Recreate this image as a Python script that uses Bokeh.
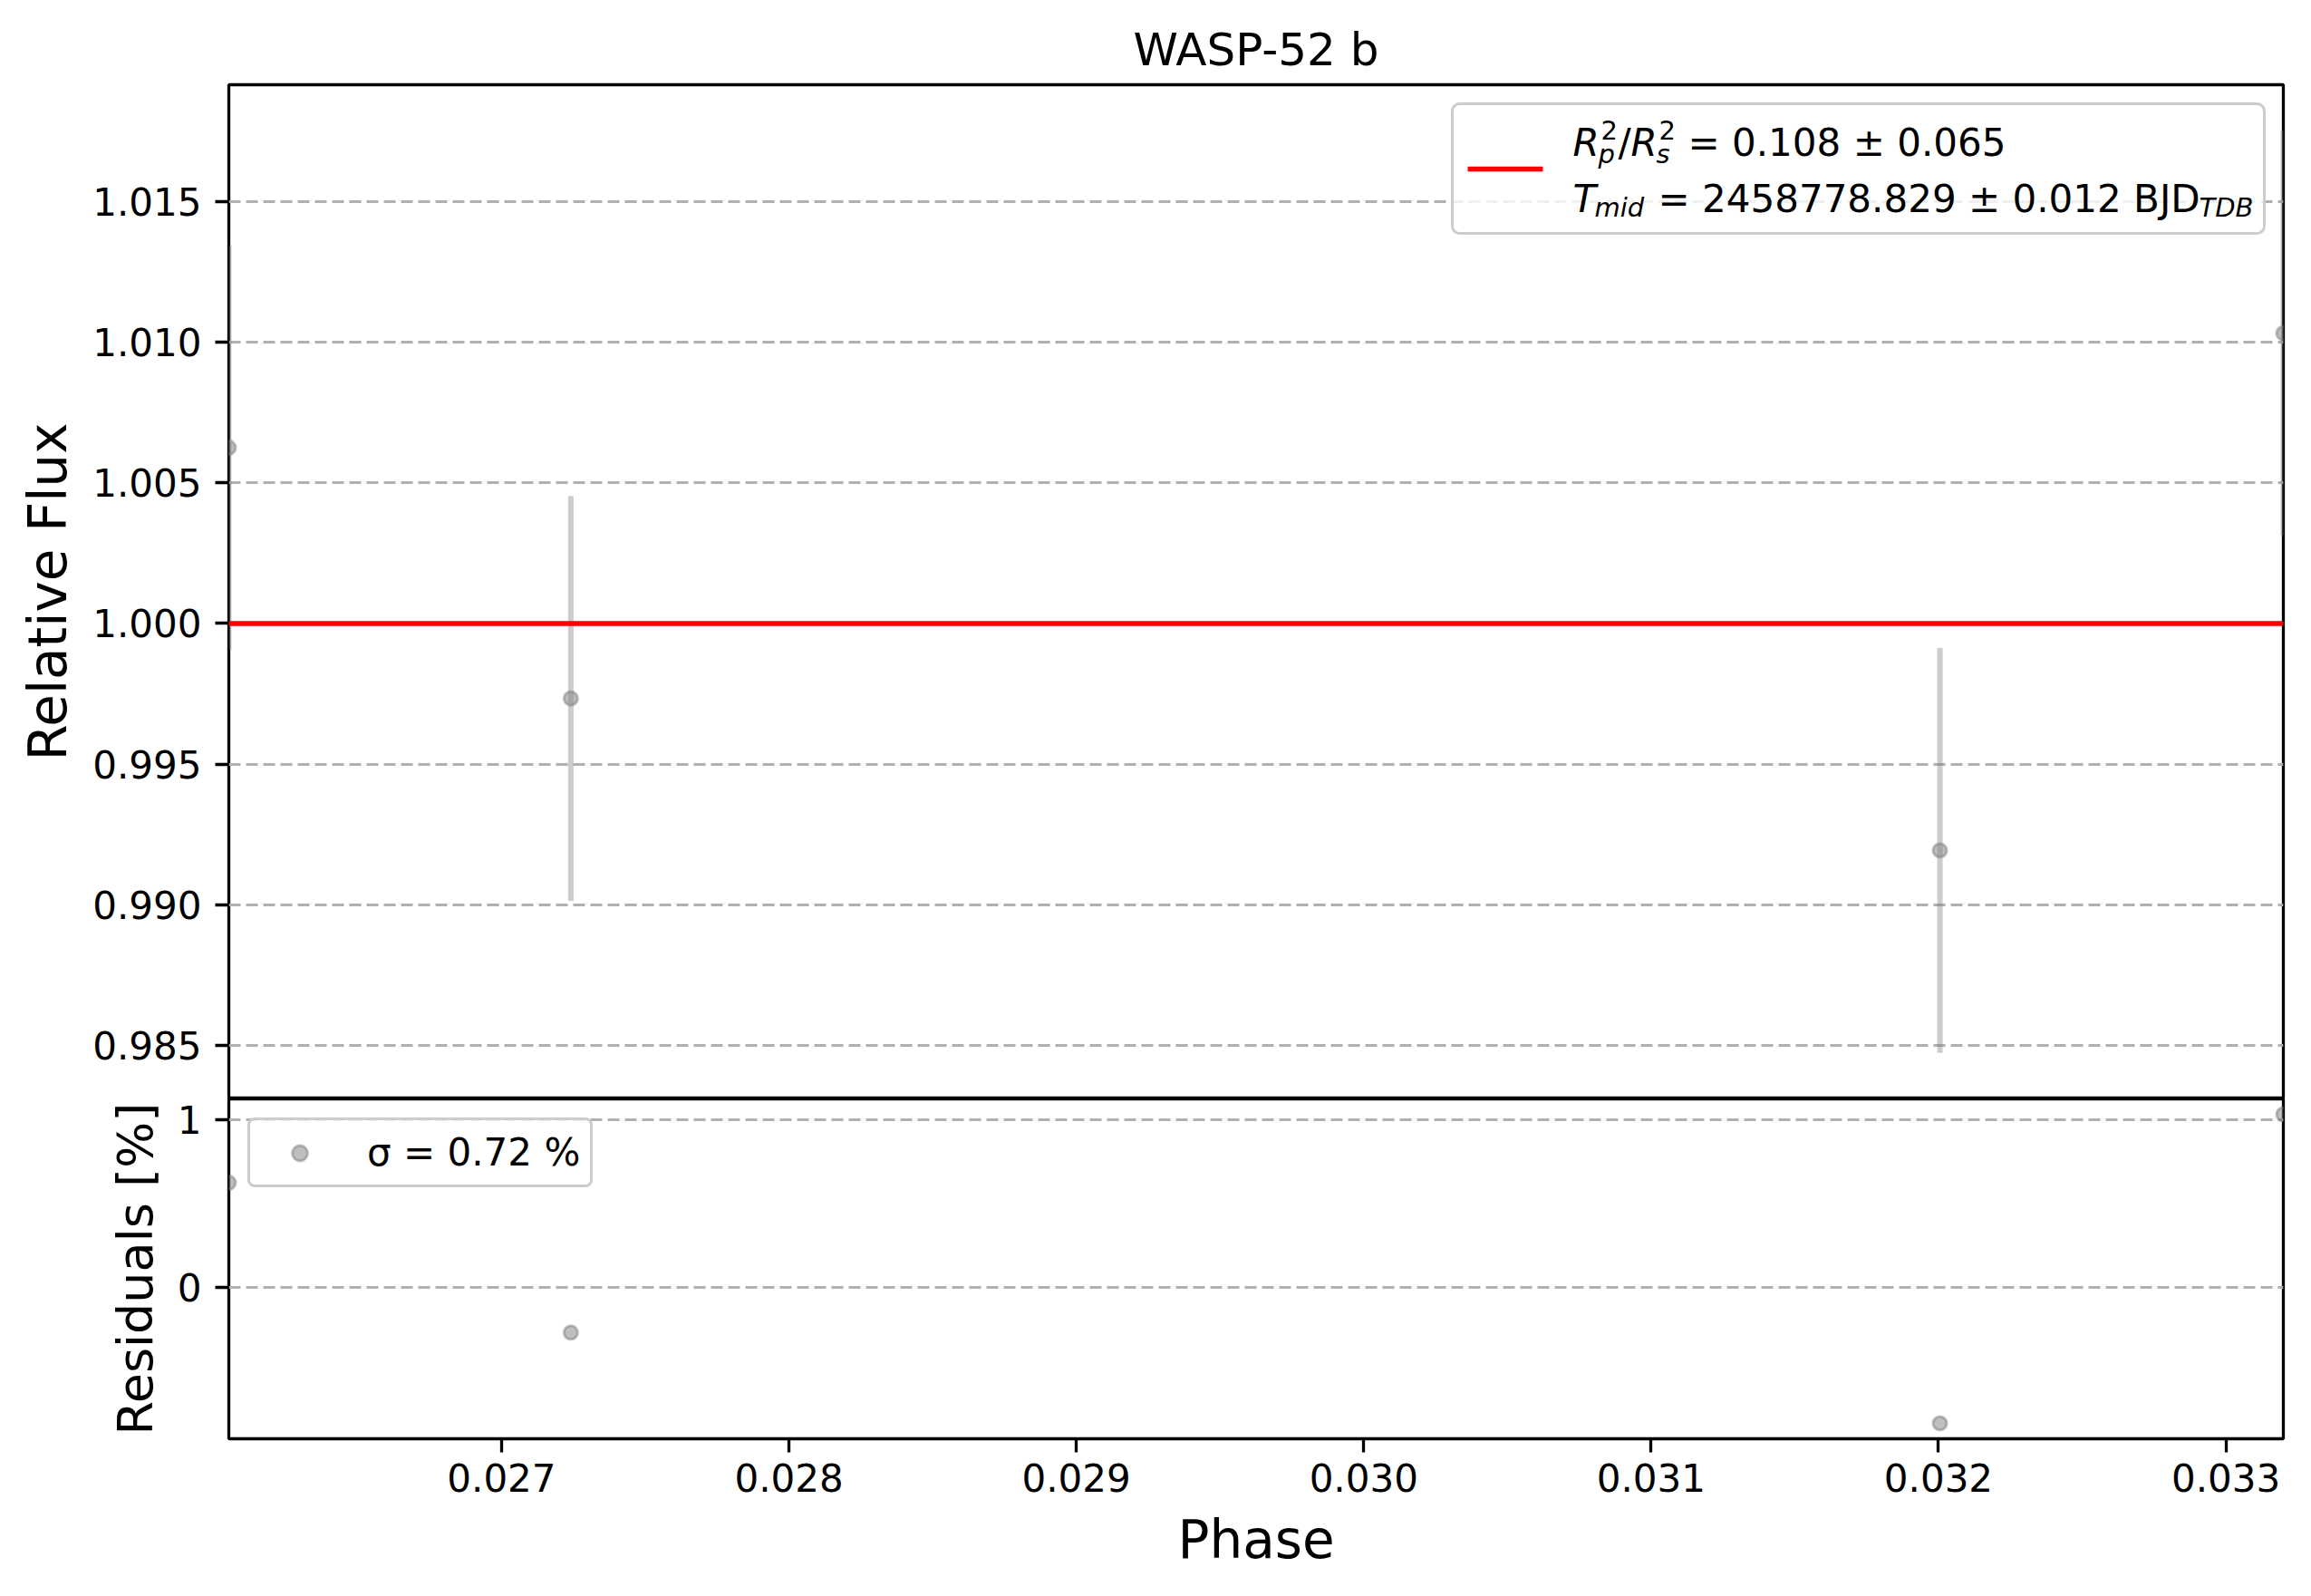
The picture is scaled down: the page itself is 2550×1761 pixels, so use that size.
import numpy as np
from bokeh.plotting import figure
from bokeh.models import (Range1d, FixedTicker, Legend, LegendItem, BoxAnnotation,
                          Label, Arrow, ColumnDataSource)
from bokeh.layouts import column
from bokeh.embed import file_html
from bokeh.resources import INLINE

# ---------------- data ----------------
title_text = "WASP-52 b"
phase = [0.026051, 0.027241, 0.032005, 0.033200]
flux = [1.00625, 0.99733, 0.99193, 1.01032]
flux_err = [0.0072, 0.0072, 0.0072, 0.0072]
model_flux = [1.0, 1.0, 1.0, 1.0]
residual_pct = [0.625, -0.267, -0.807, 1.032]

x_ticks = [0.027, 0.028, 0.029, 0.030, 0.031, 0.032, 0.033]
x_tick_labels = ["0.027", "0.028", "0.029", "0.030", "0.031", "0.032", "0.033"]
flux_ticks = [0.985, 0.990, 0.995, 1.000, 1.005, 1.010, 1.015]
flux_tick_labels = ["0.985", "0.990", "0.995", "1.000", "1.005", "1.010", "1.015"]
res_ticks = [0, 1]
res_tick_labels = ["0", "1"]

x_label = "Phase"
flux_label = "Relative Flux"
res_label = "Residuals [%]"
sigma_label = "σ = 0.72 %"
# legend text pieces (text, dx, dy, size, italic)
legend_line1 = [("R", 0, 0, 42, True), ("2", 31, 14, 29, False), ("p", 28, -12, 29, True),
                ("/", 50, 0, 42, False), ("R", 64, 0, 42, True), ("2", 95, 14, 29, False),
                ("s", 92, -12, 29, True), ("= 0.108 ± 0.065", 127, 0, 42, False)]
legend_line2 = [("T", 0, 0, 42, True), ("mid", 24, -9, 29, True),
                ("= 2458778.829 ± 0.012 BJD", 94, 0, 42, False), ("TDB", 691, -9, 29, True)]

# ---------------- style ----------------
FONT = "DejaVu Sans"
FRAME_W = 2267
LEFT = 252
RIGHT = 20
TOP_BORDER = 93
TOP_FRAME_H = 1119
BOT_FRAME_H = 375
GRID_COLOR = "#b0b0b0"
SPINE_W = 3.3

xr = Range1d(min(phase), max(phase))
lo = min(f - e for f, e in zip(flux, flux_err))
hi = max(f + e for f, e in zip(flux, flux_err))
pad = 0.05 * (hi - lo)
yr1 = Range1d(lo - pad, hi + pad)
rlo, rhi = min(residual_pct), max(residual_pct)
rpad = 0.05 * (rhi - rlo)
yr2 = Range1d(rlo - rpad, rhi + rpad)


def style_axis(ax, ticks, labels, label, label_size="58px"):
    ax.ticker = FixedTicker(ticks=ticks)
    ax.major_label_overrides = {t: s for t, s in zip(ticks, labels)}
    ax.axis_label = label
    ax.axis_label_text_font = FONT
    ax.axis_label_text_font_size = label_size
    ax.axis_label_text_font_style = "normal"
    ax.axis_label_text_color = "black"
    ax.major_label_text_font = FONT
    ax.major_label_text_font_size = "42px"
    ax.major_label_text_color = "black"
    ax.major_tick_out = 15
    ax.major_tick_in = 0
    ax.major_tick_line_width = SPINE_W
    ax.major_tick_line_color = "black"
    ax.minor_tick_line_color = None
    ax.axis_line_color = None


# ---------------- top panel ----------------
p1 = figure(frame_width=FRAME_W, frame_height=TOP_FRAME_H, x_range=xr, y_range=yr1,
            output_backend="svg", toolbar_location=None, x_axis_location=None,
            min_border_left=LEFT, min_border_right=RIGHT, min_border_top=TOP_BORDER,
            min_border_bottom=0, title=title_text)
p1.title.text_font = FONT
p1.title.text_font_size = "50px"
p1.title.text_font_style = "normal"
p1.title.text_color = "black"
p1.title.align = "center"
p1.title.standoff = 20
p1.outline_line_color = "black"
p1.outline_line_width = SPINE_W
p1.outline_line_alpha = 1
style_axis(p1.yaxis[0], flux_ticks, flux_tick_labels, flux_label)
p1.yaxis[0].major_label_standoff = 15
p1.yaxis[0].axis_label_standoff = 12
p1.xgrid.visible = False
p1.ygrid.ticker = FixedTicker(ticks=flux_ticks)
p1.ygrid.grid_line_color = GRID_COLOR
p1.ygrid.grid_line_dash = "13 6"
p1.ygrid.grid_line_width = 3

src = ColumnDataSource(dict(
    x=phase, y=flux,
    ylo=[f - e for f, e in zip(flux, flux_err)],
    yhi=[f + e for f, e in zip(flux, flux_err)],
    model=model_flux))
p1.segment(x0="x", y0="ylo", x1="x", y1="yhi", source=src,
           line_color="gray", line_alpha=0.4, line_width=6)
p1.scatter(x="x", y="y", source=src, marker="circle", size=15,
           fill_color="gray", fill_alpha=0.5, line_color="gray", line_alpha=0.5, line_width=3)
p1.line(x="x", y="model", source=src, line_color="red", line_width=5.5)

# custom legend (mathematical label)
box_kw = dict(left=1350, right=2246, top=1098, bottom=955,
              left_units="screen", right_units="screen", top_units="screen", bottom_units="screen",
              fill_color="white", fill_alpha=0.8, line_color="#cccccc", line_width=3, line_alpha=1)
if "border_radius" in BoxAnnotation.properties():
    box_kw["border_radius"] = 8
p1.add_layout(BoxAnnotation(**box_kw))
p1.add_layout(Arrow(x_start=1367, y_start=1026, x_end=1450, y_end=1026,
                    start_units="screen", end_units="screen", end=None,
                    line_color="red", line_width=5.5))
X0, Y1, Y2 = 1483, 1055, 993
for pieces, yb in ((legend_line1, Y1), (legend_line2, Y2)):
    for text, dx, dy, size, italic in pieces:
        p1.add_layout(Label(x=X0 + dx, y=yb + dy, x_units="screen", y_units="screen",
                            text=text, text_font=FONT, text_font_size=f"{size}px",
                            text_font_style="italic" if italic else "normal",
                            text_align="left", text_baseline="alphabetic", text_color="black"))

# ---------------- bottom panel ----------------
p2 = figure(frame_width=FRAME_W, frame_height=BOT_FRAME_H, x_range=xr, y_range=yr2,
            output_backend="svg", toolbar_location=None,
            min_border_left=LEFT, min_border_right=RIGHT, min_border_top=0,
            min_border_bottom=160)
p2.outline_line_color = "black"
p2.outline_line_width = SPINE_W
p2.outline_line_alpha = 1
style_axis(p2.yaxis[0], res_ticks, res_tick_labels, res_label, label_size="54px")
p2.yaxis[0].major_label_standoff = 15
p2.yaxis[0].axis_label_standoff = 12
style_axis(p2.xaxis[0], x_ticks, x_tick_labels, x_label)
p2.xaxis[0].major_label_standoff = 12
p2.xaxis[0].axis_label_standoff = 16
p2.xgrid.visible = False
p2.ygrid.ticker = FixedTicker(ticks=res_ticks)
p2.ygrid.grid_line_color = GRID_COLOR
p2.ygrid.grid_line_dash = "13 6"
p2.ygrid.grid_line_width = 3

rsrc = ColumnDataSource(dict(x=phase, r=residual_pct))
r_res = p2.scatter(x="x", y="r", source=rsrc, marker="circle", size=15,
                   fill_color="gray", fill_alpha=0.5, line_color="gray", line_alpha=0.5, line_width=3)
leg = Legend(items=[LegendItem(label=sigma_label, renderers=[r_res])], location="top_left",
             margin=21, padding=11, spacing=0, glyph_width=87, glyph_height=42,
             label_standoff=31, label_height=42, label_text_font=FONT,
             label_text_font_size="42px", label_text_color="black",
             border_line_color="#cccccc", border_line_width=3, border_line_alpha=1,
             background_fill_color="white", background_fill_alpha=0.8)
if "border_radius" in Legend.properties():
    leg.border_radius = 8
p2.add_layout(leg)

layout = column(p1, p2, spacing=0)
open("out.html", "w").write(file_html(layout, INLINE))
